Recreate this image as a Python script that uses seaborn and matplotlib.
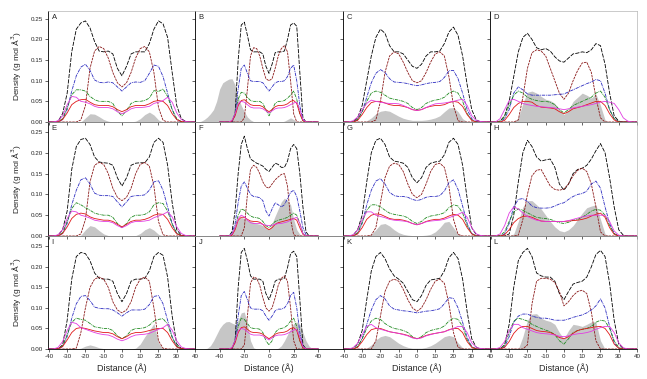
import numpy as np
import pandas as pd
import matplotlib
matplotlib.use("Agg")
import matplotlib.pyplot as plt
import seaborn as sns

# -------------------------
# Data: density profiles
# x grid shared by every line, wide grid for the grey area of column 2
# -------------------------
X = np.arange(-40, 40.1, 2.5)
XW = np.arange(-60, 60.1, 2.5)

A_black = [0, 0, .002, .02, .07, .17, .225, .24, .245, .228, .195, .172, .17, .172, .165, .13, .112, .135, .165, .17, .17, .17, .19, .225, .245, .238, .205, .12, .04, .008, .001, 0, 0]
A_maroon = [0, 0, 0, 0, 0, 0, 0, .005, .04, .13, .172, .183, .178, .155, .12, .095, .085, .095, .12, .155, .178, .183, .17, .12, .035, .004, 0, 0, 0, 0, 0, 0, 0]
A_blue = [0, 0, 0, .006, .03, .075, .112, .133, .14, .125, .102, .096, .095, .097, .095, .085, .075, .085, .095, .097, .096, .1, .118, .138, .135, .11, .07, .03, .006, 0, 0, 0, 0]
A_green = [0, 0, .001, .008, .035, .066, .078, .078, .075, .062, .054, .05, .05, .05, .045, .026, .015, .028, .045, .05, .05, .052, .058, .076, .074, .08, .062, .03, .008, .001, 0, 0, 0]
A_red = [0, 0, .001, .006, .022, .042, .05, .054, .055, .048, .042, .04, .04, .04, .037, .03, .025, .03, .037, .04, .04, .04, .044, .05, .052, .05, .04, .02, .006, .001, 0, 0, 0]
A_magenta = [0, 0, .003, .015, .042, .062, .06, .05, .048, .044, .038, .035, .035, .035, .032, .025, .02, .025, .032, .035, .035, .036, .038, .045, .048, .052, .06, .048, .022, .006, .001, 0, 0]
A_gray = [0, 0, 0, 0, 0, 0, 0, 0, .01, .02, .019, .013, .006, .002, 0, 0, 0, 0, 0, .002, .008, .018, .024, .017, .005, 0, 0, 0, 0, 0, 0, 0, 0]

B_black = [0, 0, 0, 0, 0, .02, .15, .235, .242, .21, .175, .17, .17, .17, .165, .135, .118, .14, .168, .17, .17, .172, .2, .235, .24, .232, .12, .01, 0, 0, 0, 0, 0]
B_maroon = [0, 0, 0, 0, 0, 0, 0, 0, .01, .08, .16, .18, .178, .16, .13, .105, .1, .105, .13, .16, .178, .185, .17, .1, .02, 0, 0, 0, 0, 0, 0, 0, 0]
B_blue = [0, 0, 0, 0, 0, .02, .08, .13, .138, .118, .1, .098, .098, .098, .095, .085, .075, .085, .095, .098, .098, .1, .11, .13, .138, .1, .04, .005, 0, 0, 0, 0, 0]
B_green = [0, 0, 0, 0, .003, .02, .055, .072, .07, .06, .052, .05, .05, .05, .045, .03, .015, .03, .045, .05, .05, .052, .058, .065, .075, .055, .02, .003, 0, 0, 0, 0, 0]
B_red = [0, 0, 0, 0, .002, .015, .04, .052, .054, .048, .042, .04, .04, .04, .037, .03, .025, .03, .037, .04, .04, .041, .044, .05, .052, .045, .02, .003, 0, 0, 0, 0, 0]
B_magenta = [0, 0, 0, 0, .004, .02, .045, .05, .048, .042, .036, .034, .034, .034, .032, .027, .022, .027, .032, .034, .034, .035, .038, .042, .046, .048, .03, .006, 0, 0, 0, 0, 0]
B_gray = [0, 0, .002, .006, .012, .02, .03, .05, .08, .095, .1, .104, .105, .09, .06, .04, .025, .012, .005, .001,
          0, 0, 0, 0, 0, 0, 0, 0, 0, .002, .006, .01, .006, .001,
          0, 0, 0, 0, 0, 0, 0, 0, 0, 0, 0, 0, 0, 0, 0]

C_black = [0, 0, 0, .01, .04, .1, .16, .205, .225, .215, .185, .17, .17, .165, .15, .135, .13, .14, .16, .17, .17, .172, .19, .218, .23, .21, .16, .09, .03, .005, 0, 0, 0]
C_maroon = [0, 0, 0, 0, 0, 0, 0, .005, .05, .12, .16, .17, .165, .145, .12, .1, .095, .1, .12, .145, .165, .17, .16, .11, .04, .003, 0, 0, 0, 0, 0, 0, 0]
C_blue = [0, 0, 0, .005, .025, .06, .095, .118, .127, .12, .105, .097, .096, .095, .093, .09, .088, .09, .093, .095, .096, .098, .108, .124, .125, .105, .07, .03, .008, .001, 0, 0, 0]
C_green = [0, 0, .001, .006, .025, .05, .07, .075, .072, .065, .058, .055, .053, .05, .045, .035, .03, .035, .045, .05, .053, .055, .06, .07, .075, .07, .05, .02, .005, 0, 0, 0, 0]
C_red = [0, 0, 0, .004, .018, .035, .047, .05, .05, .046, .042, .04, .04, .038, .035, .03, .028, .03, .035, .038, .04, .04, .042, .047, .05, .048, .038, .018, .004, 0, 0, 0, 0]
C_magenta = [0, 0, .003, .012, .03, .045, .053, .05, .048, .046, .045, .045, .044, .04, .035, .03, .028, .03, .035, .04, .044, .045, .046, .048, .05, .053, .055, .04, .015, .004, .001, 0, 0]
C_gray = [0, 0, 0, 0, 0, .003, .01, .02, .026, .028, .026, .02, .014, .009, .006, .004, .004, .004, .005, .007, .01, .015, .025, .034, .035, .025, .008, .001, 0, 0, 0, 0, 0]

D_black = [0, 0, .002, .015, .05, .11, .17, .205, .215, .2, .18, .175, .178, .172, .158, .148, .145, .155, .165, .167, .17, .168, .175, .19, .185, .14, .07, .015, .002, 0, 0, 0, 0]
D_maroon = [0, 0, 0, 0, 0, 0, .005, .06, .13, .168, .175, .172, .16, .13, .1, .07, .055, .07, .1, .125, .143, .145, .12, .06, .01, 0, 0, 0, 0, 0, 0, 0, 0]
D_blue = [0, 0, 0, .008, .03, .07, .085, .078, .068, .065, .065, .065, .065, .065, .066, .067, .068, .073, .078, .083, .088, .093, .097, .103, .1, .07, .03, .008, .001, 0, 0, 0, 0]
D_green = [0, 0, .002, .012, .04, .065, .075, .07, .06, .055, .052, .05, .05, .048, .042, .03, .022, .03, .04, .045, .05, .055, .06, .07, .075, .06, .03, .008, .001, 0, 0, 0, 0]
D_red = [0, 0, 0, .004, .018, .035, .045, .05, .05, .048, .04, .036, .035, .034, .032, .025, .02, .025, .032, .035, .038, .042, .046, .05, .05, .04, .02, .005, 0, 0, 0, 0, 0]
D_magenta = [0, 0, .008, .03, .052, .055, .05, .045, .042, .04, .038, .037, .036, .035, .034, .032, .03, .032, .034, .036, .038, .04, .042, .045, .048, .05, .048, .045, .03, .01, .002, 0, 0]
D_gray = [0, 0, 0, 0, 0, 0, .01, .045, .072, .075, .07, .062, .055, .052, .045, .03, .018, .03, .05, .06, .07, .065, .058, .068, .04, .005, 0, 0, 0, 0, 0, 0, 0]

E_black = [0, 0, .002, .015, .06, .16, .215, .232, .235, .22, .19, .178, .176, .175, .17, .14, .12, .14, .17, .175, .176, .176, .19, .225, .235, .225, .17, .08, .015, .002, 0, 0, 0]
E_maroon = [0, 0, 0, 0, 0, 0, 0, .005, .04, .13, .17, .177, .172, .15, .115, .093, .085, .093, .115, .15, .172, .177, .168, .12, .035, .003, 0, 0, 0, 0, 0, 0, 0]
E_blue = [0, 0, 0, .006, .03, .075, .11, .135, .14, .125, .103, .098, .097, .097, .095, .082, .07, .082, .095, .097, .097, .099, .11, .13, .133, .11, .07, .03, .006, 0, 0, 0, 0]
E_green = [0, 0, .001, .008, .035, .066, .08, .075, .068, .062, .055, .052, .05, .05, .045, .03, .02, .03, .045, .05, .05, .052, .058, .075, .08, .078, .06, .028, .007, .001, 0, 0, 0]
E_red = [0, 0, .001, .006, .022, .042, .052, .055, .053, .046, .042, .04, .038, .038, .035, .028, .022, .028, .035, .038, .038, .04, .044, .05, .053, .052, .04, .02, .005, .001, 0, 0, 0]
E_magenta = [0, 0, .003, .015, .042, .06, .058, .05, .047, .043, .038, .036, .035, .035, .032, .025, .02, .025, .032, .035, .035, .036, .038, .044, .048, .052, .058, .046, .022, .006, .001, 0, 0]
E_gray = [0, 0, 0, 0, 0, 0, 0, .002, .015, .025, .022, .013, .005, .001, 0, 0, 0, 0, 0, .001, .006, .015, .02, .014, .004, 0, 0, 0, 0, 0, 0, 0, 0]

F_black = [0, 0, 0, 0, .01, .06, .15, .22, .24, .21, .185, .18, .175, .172, .168, .16, .155, .165, .175, .172, .165, .165, .18, .21, .22, .21, .15, .07, .01, 0, 0, 0, 0]
F_maroon = [0, 0, 0, 0, 0, 0, 0, 0, .02, .1, .16, .17, .165, .15, .13, .118, .115, .125, .135, .142, .148, .15, .12, .04, .003, 0, 0, 0, 0, 0, 0, 0, 0]
F_blue = [0, 0, 0, 0, .005, .03, .08, .12, .13, .115, .1, .095, .094, .092, .085, .06, .048, .065, .08, .075, .07, .075, .09, .105, .11, .095, .06, .02, .003, 0, 0, 0, 0]
F_green = [0, 0, 0, 0, .003, .02, .05, .065, .062, .055, .048, .045, .044, .042, .035, .025, .02, .028, .035, .038, .04, .042, .045, .05, .055, .05, .03, .008, 0, 0, 0, 0, 0]
F_red = [0, 0, 0, 0, .002, .015, .038, .045, .045, .04, .036, .035, .035, .033, .028, .02, .015, .02, .028, .032, .034, .036, .038, .04, .042, .038, .02, .004, 0, 0, 0, 0, 0]
F_magenta = [0, 0, 0, 0, .004, .02, .042, .05, .046, .038, .032, .03, .03, .03, .028, .026, .025, .026, .028, .03, .03, .032, .034, .038, .042, .045, .03, .006, 0, 0, 0, 0, 0]
F_gray = [0, 0, 0, 0, 0, 0, 0, 0, 0, 0, 0, 0, .005,
          .02, .04, .045, .042, .038, .035, .033, .03, .028, .025, .02, .015, .03, .048, .065, .082, .091, .085, .075, .04, .015, .004,
          0, 0, 0, 0, 0, 0, 0, 0, 0, 0, 0, 0, 0, 0]

G_black = [0, 0, .002, .015, .05, .13, .2, .23, .235, .22, .19, .18, .178, .175, .165, .14, .128, .14, .165, .175, .178, .18, .195, .225, .235, .22, .17, .09, .02, .003, 0, 0, 0]
G_maroon = [0, 0, 0, 0, 0, 0, .002, .02, .08, .14, .168, .175, .172, .155, .125, .1, .092, .1, .125, .155, .172, .175, .165, .12, .04, .004, 0, 0, 0, 0, 0, 0, 0]
G_blue = [0, 0, 0, .006, .03, .075, .11, .132, .138, .125, .105, .097, .095, .095, .093, .088, .085, .088, .093, .095, .095, .097, .108, .128, .135, .112, .072, .03, .006, 0, 0, 0, 0]
G_green = [0, 0, .001, .008, .033, .062, .075, .075, .07, .062, .055, .052, .05, .048, .044, .035, .03, .035, .044, .048, .05, .052, .056, .068, .075, .072, .055, .025, .006, 0, 0, 0, 0]
G_red = [0, 0, .001, .005, .02, .04, .05, .053, .052, .047, .042, .04, .04, .038, .035, .03, .027, .03, .035, .038, .04, .04, .043, .048, .052, .05, .04, .02, .005, 0, 0, 0, 0]
G_magenta = [0, 0, .003, .014, .04, .058, .058, .05, .047, .044, .04, .038, .037, .036, .034, .03, .027, .03, .034, .036, .037, .038, .04, .044, .048, .052, .057, .045, .02, .005, .001, 0, 0]
G_gray = [0, 0, 0, 0, 0, 0, .004, .015, .028, .03, .024, .015, .008, .004, .002, .001, .001, .001, .002, .004, .01, .02, .033, .035, .02, .005, 0, 0, 0, 0, 0, 0, 0]

H_black = [0, 0, 0, 0, .005, .05, .13, .2, .23, .215, .19, .18, .183, .185, .165, .125, .11, .125, .15, .16, .163, .17, .185, .205, .222, .2, .14, .07, .015, .002, 0, 0, 0]
H_maroon = [0, 0, 0, 0, 0, 0, .002, .04, .1, .145, .158, .16, .14, .12, .112, .11, .113, .125, .145, .158, .163, .155, .125, .07, .01, 0, 0, 0, 0, 0, 0, 0, 0]
H_blue = [0, 0, 0, .005, .03, .07, .088, .09, .083, .072, .068, .067, .067, .068, .072, .077, .08, .088, .095, .1, .102, .108, .125, .132, .115, .07, .03, .006, 0, 0, 0, 0, 0]
H_green = [0, 0, .001, .01, .035, .058, .065, .062, .056, .05, .045, .043, .042, .04, .036, .032, .03, .033, .038, .04, .045, .052, .06, .064, .062, .05, .025, .006, 0, 0, 0, 0, 0]
H_red = [0, 0, 0, .003, .015, .032, .042, .047, .048, .045, .04, .036, .035, .035, .035, .035, .035, .036, .037, .038, .04, .043, .048, .052, .055, .045, .02, .004, 0, 0, 0, 0, 0]
H_magenta = [0, 0, .005, .025, .055, .07, .065, .055, .047, .042, .038, .036, .035, .035, .035, .035, .035, .037, .04, .043, .046, .048, .05, .05, .05, .05, .035, .012, .002, 0, 0, 0, 0]
H_gray = [0, 0, 0, 0, 0, .005, .035, .07, .085, .085, .075, .065, .05, .035, .022, .013, .01, .015, .025, .04, .055, .068, .072, .075, .04, .005, 0, 0, 0, 0, 0, 0, 0]

I_black = [0, 0, 0, .01, .07, .17, .225, .235, .232, .215, .185, .172, .17, .17, .165, .135, .115, .135, .165, .17, .17, .172, .19, .225, .235, .228, .175, .08, .012, .001, 0, 0, 0]
I_maroon = [0, 0, 0, 0, 0, 0, .002, .04, .1, .15, .17, .175, .17, .15, .115, .095, .088, .095, .115, .15, .17, .175, .165, .1, .02, .002, 0, 0, 0, 0, 0, 0, 0]
I_blue = [0, 0, 0, .006, .03, .075, .11, .128, .13, .118, .102, .099, .098, .098, .095, .088, .08, .088, .095, .095, .095, .097, .108, .128, .13, .11, .07, .03, .006, 0, 0, 0, 0]
I_green = [0, 0, .001, .008, .035, .065, .075, .072, .07, .062, .054, .052, .05, .05, .045, .032, .025, .032, .045, .05, .05, .052, .058, .068, .072, .074, .06, .028, .007, .001, 0, 0, 0]
I_red = [0, 0, .001, .006, .022, .04, .05, .052, .05, .047, .044, .042, .04, .04, .037, .03, .025, .03, .037, .04, .04, .042, .045, .048, .05, .05, .04, .02, .005, .001, 0, 0, 0]
I_magenta = [0, 0, .004, .018, .045, .065, .062, .052, .048, .044, .04, .037, .035, .034, .03, .024, .02, .024, .03, .034, .035, .036, .038, .043, .048, .052, .06, .046, .02, .005, .001, 0, 0]
I_gray = [0, 0, 0, 0, 0, 0, 0, .002, .007, .01, .007, .003, .001, 0, 0, 0, 0, 0, 0, .002, .012, .03, .045, .062, .015, 0, 0, 0, 0, 0, 0, 0, 0]

J_black = [0, 0, 0, 0, 0, .02, .15, .235, .245, .215, .178, .17, .17, .17, .165, .135, .12, .14, .165, .17, .17, .172, .198, .232, .238, .225, .12, .01, 0, 0, 0, 0, 0]
J_maroon = [0, 0, 0, 0, 0, 0, 0, 0, .01, .08, .16, .175, .172, .155, .125, .1, .092, .1, .125, .155, .172, .178, .165, .1, .02, 0, 0, 0, 0, 0, 0, 0, 0]
J_blue = [0, 0, 0, 0, 0, .02, .08, .13, .14, .12, .1, .097, .097, .097, .093, .08, .07, .08, .093, .097, .097, .1, .11, .13, .138, .1, .04, .005, 0, 0, 0, 0, 0]
J_green = [0, 0, 0, 0, .003, .02, .055, .075, .072, .062, .052, .05, .05, .048, .04, .02, .01, .02, .04, .048, .05, .052, .058, .068, .075, .055, .02, .003, 0, 0, 0, 0, 0]
J_red = [0, 0, 0, 0, .002, .015, .04, .052, .054, .048, .042, .04, .04, .039, .036, .03, .025, .03, .036, .039, .04, .041, .044, .05, .052, .045, .02, .003, 0, 0, 0, 0, 0]
J_magenta = [0, 0, 0, 0, .004, .02, .045, .05, .048, .042, .036, .034, .034, .034, .032, .027, .022, .027, .032, .034, .034, .035, .038, .042, .046, .048, .03, .006, 0, 0, 0, 0, 0]
J_gray = [0, 0, 0, 0, .002, .008, .02, .035, .05, .06, .066, .067, .063, .06, .07, .088, .09, .06, .02, .003,
          0, 0, 0, 0, 0, 0, 0,
          .002, .008, .02, .035, .05, .062, .066, .06, .04, .02, .007, .001,
          0, 0, 0, 0, 0, 0, 0, 0, 0, 0]

K_black = [0, 0, .002, .012, .045, .12, .19, .225, .235, .22, .195, .178, .17, .16, .14, .12, .115, .13, .155, .168, .17, .172, .19, .222, .235, .22, .17, .09, .025, .004, 0, 0, 0]
K_maroon = [0, 0, 0, 0, 0, 0, 0, .02, .08, .14, .165, .17, .165, .145, .12, .1, .092, .1, .12, .145, .165, .17, .16, .11, .04, .004, 0, 0, 0, 0, 0, 0, 0]
K_blue = [0, 0, 0, .005, .025, .06, .095, .12, .13, .122, .105, .097, .095, .093, .092, .09, .088, .09, .092, .093, .095, .098, .11, .125, .123, .1, .065, .028, .006, 0, 0, 0, 0]
K_green = [0, 0, .001, .006, .025, .05, .068, .075, .072, .062, .055, .05, .048, .045, .04, .03, .025, .03, .04, .045, .048, .05, .056, .068, .075, .072, .055, .022, .005, 0, 0, 0, 0]
K_red = [0, 0, 0, .004, .018, .035, .047, .05, .05, .046, .042, .04, .038, .036, .033, .028, .025, .028, .033, .036, .038, .04, .042, .047, .05, .05, .04, .018, .004, 0, 0, 0, 0]
K_magenta = [0, 0, .003, .014, .035, .055, .06, .052, .048, .045, .042, .04, .038, .035, .032, .027, .025, .027, .032, .035, .038, .04, .042, .046, .05, .055, .055, .04, .015, .004, .001, 0, 0]
K_gray = [0, 0, 0, 0, 0, .002, .01, .022, .03, .033, .03, .022, .014, .008, .004, .002, .002, .002, .004, .008, .014, .022, .03, .033, .03, .015, .003, 0, 0, 0, 0, 0, 0]

L_black = [0, 0, 0, .01, .06, .15, .215, .235, .245, .225, .185, .178, .175, .175, .165, .135, .12, .14, .158, .162, .165, .175, .2, .23, .24, .225, .16, .07, .012, .001, 0, 0, 0]
L_maroon = [0, 0, 0, 0, 0, 0, 0, 0, .01, .11, .165, .172, .172, .17, .162, .14, .105, .115, .13, .14, .143, .135, .09, .02, 0, 0, 0, 0, 0, 0, 0, 0, 0]
L_blue = [0, 0, 0, .005, .03, .065, .08, .085, .085, .08, .077, .075, .075, .073, .07, .07, .07, .073, .077, .08, .083, .088, .095, .105, .122, .1, .055, .015, .002, 0, 0, 0, 0]
L_green = [0, 0, .001, .01, .04, .068, .075, .072, .068, .06, .055, .05, .046, .042, .035, .02, .012, .025, .04, .045, .048, .05, .055, .065, .07, .068, .05, .02, .004, 0, 0, 0, 0]
L_red = [0, 0, 0, .004, .018, .038, .05, .055, .055, .05, .045, .043, .042, .04, .035, .028, .025, .03, .038, .045, .048, .05, .052, .054, .055, .05, .035, .012, .002, 0, 0, 0, 0]
L_magenta = [0, 0, .004, .018, .045, .06, .06, .052, .048, .044, .04, .038, .037, .036, .034, .031, .03, .032, .035, .037, .038, .04, .043, .048, .052, .055, .055, .04, .015, .003, 0, 0, 0]
L_gray = [0, 0, 0, 0, 0, 0, 0, .03, .07, .085, .086, .075, .07, .067, .06, .04, .025, .045, .06, .058, .055, .06, .066, .065, .02, 0, 0, 0, 0, 0, 0, 0, 0]

PANELS = {
    "A": (A_black, A_maroon, A_blue, A_green, A_red, A_magenta, A_gray),
    "B": (B_black, B_maroon, B_blue, B_green, B_red, B_magenta, B_gray),
    "C": (C_black, C_maroon, C_blue, C_green, C_red, C_magenta, C_gray),
    "D": (D_black, D_maroon, D_blue, D_green, D_red, D_magenta, D_gray),
    "E": (E_black, E_maroon, E_blue, E_green, E_red, E_magenta, E_gray),
    "F": (F_black, F_maroon, F_blue, F_green, F_red, F_magenta, F_gray),
    "G": (G_black, G_maroon, G_blue, G_green, G_red, G_magenta, G_gray),
    "H": (H_black, H_maroon, H_blue, H_green, H_red, H_magenta, H_gray),
    "I": (I_black, I_maroon, I_blue, I_green, I_red, I_magenta, I_gray),
    "J": (J_black, J_maroon, J_blue, J_green, J_red, J_magenta, J_gray),
    "K": (K_black, K_maroon, K_blue, K_green, K_red, K_magenta, K_gray),
    "L": (L_black, L_maroon, L_blue, L_green, L_red, L_magenta, L_gray),
}
LETTERS = ["A", "B", "C", "D", "E", "F", "G", "H", "I", "J", "K", "L"]

# line styles: (colour, dash pattern)
STYLES = [
    ("#000000", (5, 1.5)),
    ("#8b1a1a", (3, 1)),
    ("#2b2bc0", (4, 1, 1, 1)),
    ("#1f8a1f", (4, 1, 1, 1)),
    ("#e01818", None),
    ("#e23ce2", None),
]

# -------------------------
# Layout
# -------------------------
sns.set_style("ticks")
plt.rcParams["font.family"] = ["Liberation Sans", "DejaVu Sans"]
plt.rcParams["axes.unicode_minus"] = False

W, H = 647, 379
fig = plt.figure(figsize=(W / 100, H / 100), dpi=100)

lefts = [48, 195, 343, 490]
rights = [195, 343, 490, 637]
tops = [11, 122, 236]
bottoms = [122, 236, 349]
ytops = [0.269, 0.274, 0.275]

for r in range(3):
    for c in range(4):
        letter = LETTERS[r * 4 + c]
        rect = [lefts[c] / W, 1 - bottoms[r] / H,
                (rights[c] - lefts[c]) / W, (bottoms[r] - tops[r]) / H]
        ax = fig.add_axes(rect)
        ax.patch.set_alpha(0)
        series = PANELS[letter]

        # grey area
        gx = XW if c == 1 else X
        ax.fill_between(gx, series[6], color="#c6c6c6", linewidth=0, zorder=1)

        # density lines
        for vals, (col, dash) in zip(series[:6], STYLES):
            df = pd.DataFrame({"x": X, "y": vals})
            ls = "-" if dash is None else (0, dash)
            sns.lineplot(data=df, x="x", y="y", ax=ax, color=col,
                         linewidth=0.6, linestyle=ls, legend=False, zorder=3)

        if c == 1:
            ax.set_xlim(-60, 60)
            xt = [-40, -20, 0, 20, 40]
        else:
            ax.set_xlim(-40.5, 40)
            xt = list(range(-40, 41, 10))
        ax.set_xticks(xt)
        ax.set_ylim(0, ytops[r])
        ax.set_yticks(np.arange(0, 0.26, 0.05))

        ax.tick_params(direction="out", length=2, width=0.5, labelsize=4.5, pad=1.5)
        if c == 0:
            ax.set_yticklabels(["%.2f" % v for v in np.arange(0, 0.26, 0.05)])
            ax.set_ylabel("Density (g mol Å$^3$)", fontsize=6, labelpad=5)
        else:
            ax.set_yticklabels([])
            ax.set_ylabel("")
        if r == 2:
            # the last column shares its -40 with the 40 of column three
            labels = [str(v) for v in xt]
            if c == 3:
                labels[0] = ""
            ax.set_xticklabels(labels)
            ax.set_xlabel("Distance (Å)", fontsize=6.5, labelpad=3)
        else:
            ax.set_xticklabels([])
            ax.set_xlabel("")

        for side in ["left", "bottom"]:
            ax.spines[side].set_linewidth(0.6)
            ax.spines[side].set_color("black")
        for side in ["top", "right"]:
            ax.spines[side].set_visible(True)
            ax.spines[side].set_linewidth(0.5)
            ax.spines[side].set_color("#b5b5b5")

        ax.text(0.025, 0.975, letter, transform=ax.transAxes, fontsize=5.5,
                va="top", ha="left")

fig.savefig("out.png", dpi=100)
